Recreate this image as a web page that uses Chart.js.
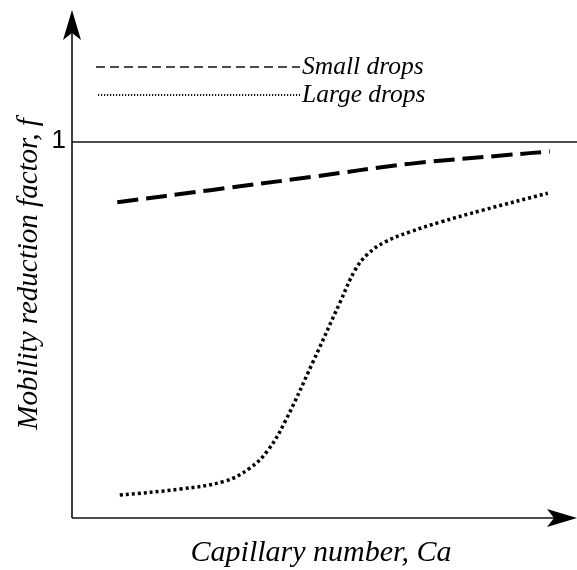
<!DOCTYPE html>
<html>
<head>
<meta charset="utf-8">
<script src="https://cdn.jsdelivr.net/npm/chart.js@4.4.1/dist/chart.umd.min.js"></script>
<style>
  html, body { margin: 0; padding: 0; background: #fff; }
</style>
</head>
<body>
<canvas id="chart" width="577" height="570"></canvas>
<script>
// Capillary number (arbitrary units) and mobility reduction factor f
const smallCa = [0.9, 2.75, 4.75, 6.7, 8.7, 9.5];
const smallF = [0.840, 0.872, 0.907, 0.942, 0.966, 0.975];

const largeCa = [0.95, 2.15, 3.04, 3.54, 3.9, 4.23, 4.79, 5.33, 5.63, 5.88, 6.22, 6.72, 7.32, 8.17, 9.46];
const largeF = [0.061, 0.077, 0.098, 0.133, 0.181, 0.255, 0.415, 0.574, 0.660, 0.702, 0.734, 0.761, 0.787, 0.819, 0.864];

const yTicks = [1];
const labels = ['Small drops', 'Large drops'];

const serif = '"Liberation Serif", "DejaVu Serif", serif';
const sans = '"Liberation Sans", Arial, sans-serif';

function toPoints(xs, ys) {
    return xs.map((v, i) => ({ x: v, y: ys[i] }));
}

// arrow head with a slightly concave back
function arrowHead(ctx, tx, ty, dx, dy) {
    const len = 30, half = 9, inset = 7;
    const px = -dy, py = dx;
    ctx.beginPath();
    ctx.moveTo(tx, ty);
    ctx.lineTo(tx - dx * len + px * half, ty - dy * len + py * half);
    ctx.lineTo(tx - dx * (len - inset), ty - dy * (len - inset));
    ctx.lineTo(tx - dx * len - px * half, ty - dy * len - py * half);
    ctx.closePath();
    ctx.fill();
}

const axesPlugin = {
    id: 'axesPlugin',
    beforeDatasetsDraw(chart) {
        const { ctx, scales: { x, y } } = chart;
        const x0 = x.getPixelForValue(0);
        const y0 = y.getPixelForValue(0);
        ctx.save();
        ctx.strokeStyle = '#111';
        ctx.fillStyle = '#000';
        ctx.lineWidth = 1.6;

        // reference line(s) and tick labels
        yTicks.forEach(t => {
            const py = y.getPixelForValue(t);
            ctx.beginPath();
            ctx.moveTo(x0, py);
            ctx.lineTo(577, py);
            ctx.stroke();
            ctx.font = '26px ' + sans;
            ctx.textAlign = 'right';
            ctx.textBaseline = 'middle';
            ctx.fillText(String(t), x0 - 6, py - 1);
        });

        // axes
        ctx.beginPath();
        ctx.moveTo(x0, y0);
        ctx.lineTo(x0, 20);
        ctx.moveTo(x0, y0);
        ctx.lineTo(565, y0);
        ctx.stroke();
        arrowHead(ctx, x0, 10, 0, -1);
        arrowHead(ctx, 577, y0, 1, 0);

        // axis titles
        ctx.textAlign = 'center';
        ctx.textBaseline = 'alphabetic';
        ctx.font = 'italic 30px ' + serif;
        ctx.fillText('Capillary number, Ca', 321, 561);
        ctx.save();
        ctx.translate(37, 274);
        ctx.rotate(-Math.PI / 2);
        ctx.font = 'italic 29px ' + serif;
        ctx.fillText('Mobility reduction factor, f', 0, 0);
        ctx.restore();

        // legend
        const legendRows = [
            { y: 67, x1: 96, dash: [9, 5], width: 1.6 },
            { y: 95, x1: 98, dash: [1.2, 1.8], width: 1.8 }
        ];
        legendRows.forEach((r, i) => {
            ctx.setLineDash(r.dash);
            ctx.lineWidth = r.width;
            ctx.beginPath();
            ctx.moveTo(r.x1, r.y);
            ctx.lineTo(300, r.y);
            ctx.stroke();
            ctx.setLineDash([]);
            ctx.font = 'italic 25.5px ' + serif;
            ctx.textAlign = 'left';
            ctx.fillText(labels[i], 302, r.y + 7);
        });
        ctx.restore();
    }
};

new Chart(document.getElementById('chart'), {
    type: 'scatter',
    data: {
        datasets: [
            {
                label: labels[0],
                data: toPoints(smallCa, smallF),
                showLine: true,
                borderColor: '#000',
                borderWidth: 4,
                borderDash: [21, 8],
                pointRadius: 0,
                tension: 0.4
            },
            {
                label: labels[1],
                data: toPoints(largeCa, largeF),
                showLine: true,
                borderColor: '#000',
                borderWidth: 3.5,
                borderDash: [3, 3],
                pointRadius: 0,
                tension: 0.4
            }
        ]
    },
    options: {
        responsive: false,
        animation: false,
        layout: { padding: { left: 72, right: 2, top: 18, bottom: 52 } },
        plugins: { legend: { display: false }, tooltip: { enabled: false } },
        scales: {
            x: { type: 'linear', min: 0, max: 10, display: false },
            y: { type: 'linear', min: 0, max: 1.33, display: false }
        }
    },
    plugins: [axesPlugin]
});
</script>
</body>
</html>
